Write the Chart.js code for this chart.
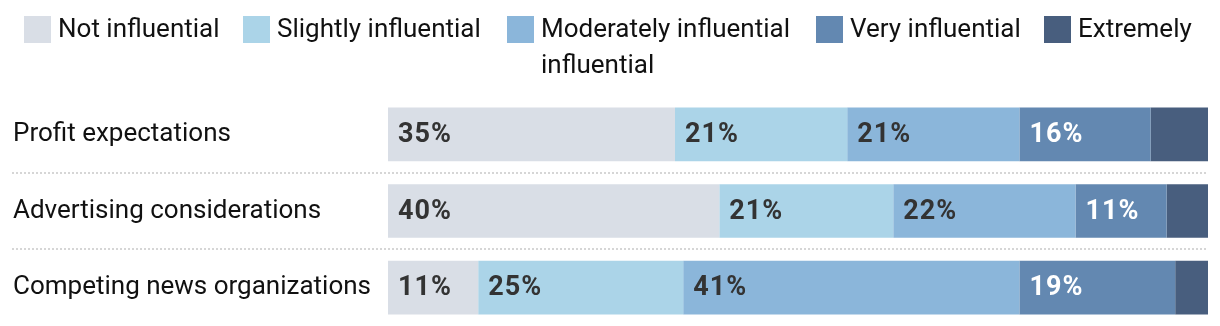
<!DOCTYPE html>
<html>
<head>
<meta charset="utf-8">
<script src="https://cdn.jsdelivr.net/npm/chart.js@4.4.1/dist/chart.umd.min.js"></script>
<style>
    body { margin: 0; background: #fff; font-family: Roboto, sans-serif; }
    #wrap { position: relative; width: 1220px; height: 326px; }
    #legend { position: absolute; left: 0; top: 0; width: 1220px; height: 90px; }
    .item { position: absolute; top: 16px; }
    .box { position: absolute; left: 0; top: 0; width: 27px; height: 27px; }
    .txt { position: absolute; white-space: nowrap; font-size: 26px; line-height: 36px; color: #111; }
</style>
</head>
<body>
<div id="wrap">
    <div id="legend"></div>
    <canvas id="myChart" width="1220" height="326"></canvas>
</div>
<script>
    "use strict";

    var categories = ['Profit expectations', 'Advertising considerations', 'Competing news organizations'];
    var seriesNames = ['Not influential', 'Slightly influential', 'Moderately influential', 'Very influential', 'Extremely influential'];
    var notInfluential = [35, 40, 11];
    var slightlyInfluential = [21, 21, 25];
    var moderatelyInfluential = [21, 22, 41];
    var veryInfluential = [16, 11, 19];
    var extremelyInfluential = [7, 5, 4];

    var colors = ['#d9dee6', '#abd4e8', '#8bb6da', '#6388b1', '#485e7e'];
    var labelColors = ['#333333', '#333333', '#333333', '#ffffff', '#ffffff'];

    // legend, as in the picture (the 3rd label wraps)
    var legendItems = [
        { left: 24, text: 'Not influential' },
        { left: 243, text: 'Slightly influential' },
        { left: 507, text: 'Moderately influential<br>influential' },
        { left: 816, text: 'Very influential' },
        { left: 1044, text: 'Extremely' }
    ];
    var legendEl = document.getElementById('legend');
    legendItems.forEach(function (it, i) {
        var d = document.createElement('div');
        d.className = 'item';
        d.style.left = it.left + 'px';
        d.innerHTML = '<div class="box" style="background:' + colors[i] + '"></div>' +
            '<div class="txt" style="left:34px;top:-6px">' + it.text + '</div>';
        legendEl.appendChild(d);
    });

    var allSeries = [notInfluential, slightlyInfluential, moderatelyInfluential, veryInfluential, extremelyInfluential];

    // rows are stretched to full width (rounded values don't always sum to 100)
    var rowTotals = categories.map(function (c, i) {
        return allSeries.reduce(function (s, arr) { return s + arr[i]; }, 0);
    });

    // dotted separators between rows
    var separators = {
        id: 'separators',
        beforeDatasetsDraw: function (chart) {
            var ctx = chart.ctx;
            var y = chart.scales.y;
            ctx.save();
            ctx.strokeStyle = '#d6d6d6';
            ctx.lineWidth = 2;
            ctx.setLineDash([2, 2]);
            for (var i = 0; i < categories.length - 1; i++) {
                var py = Math.round((y.getPixelForValue(i) + y.getPixelForValue(i + 1)) / 2);
                ctx.beginPath();
                ctx.moveTo(12, py);
                ctx.lineTo(chart.chartArea.right, py);
                ctx.stroke();
            }
            ctx.restore();
        }
    };

    // percent labels inside the segments
    var barLabels = {
        id: 'barLabels',
        afterDatasetsDraw: function (chart) {
            var ctx = chart.ctx;
            ctx.save();
            ctx.font = 'bold 27px Roboto, sans-serif';
            ctx.letterSpacing = '1px';
            ctx.textBaseline = 'middle';
            ctx.textAlign = 'left';
            chart.data.datasets.forEach(function (ds, di) {
                chart.getDatasetMeta(di).data.forEach(function (bar, i) {
                    var v = allSeries[di][i];
                    if (v < 8) return;
                    ctx.fillStyle = labelColors[di];
                    ctx.fillText(v + '%', bar.base + 10, bar.y + 1);
                });
            });
            ctx.restore();
        }
    };

    var ctx = document.getElementById('myChart').getContext('2d');
    var chart = new Chart(ctx, {
        type: 'bar',
        data: {
            labels: categories,
            datasets: allSeries.map(function (vals, i) {
                return {
                    label: seriesNames[i],
                    data: vals.map(function (v, j) { return v / rowTotals[j] * 100; }),
                    backgroundColor: colors[i],
                    borderWidth: 0,
                    categoryPercentage: 1,
                    barPercentage: 0.70
                };
            })
        },
        options: {
            indexAxis: 'y',
            responsive: false,
            animation: false,
            layout: { padding: { left: 13, right: 12, top: 96, bottom: 0 } },
            scales: {
                x: {
                    stacked: true,
                    min: 0,
                    max: 100,
                    display: false
                },
                y: {
                    stacked: true,
                    grid: { display: false },
                    border: { display: false },
                    ticks: {
                        crossAlign: 'far',
                        color: '#111',
                        font: { family: 'Roboto, sans-serif', size: 26 }
                    },
                    afterFit: function (scale) {
                        scale.width = 375;
                        scale.paddingTop = 0;
                        scale.paddingBottom = 0;
                    }
                }
            },
            plugins: {
                legend: { display: false },
                tooltip: { enabled: false }
            }
        },
        plugins: [separators, barLabels]
    });
</script>
</body>
</html>
